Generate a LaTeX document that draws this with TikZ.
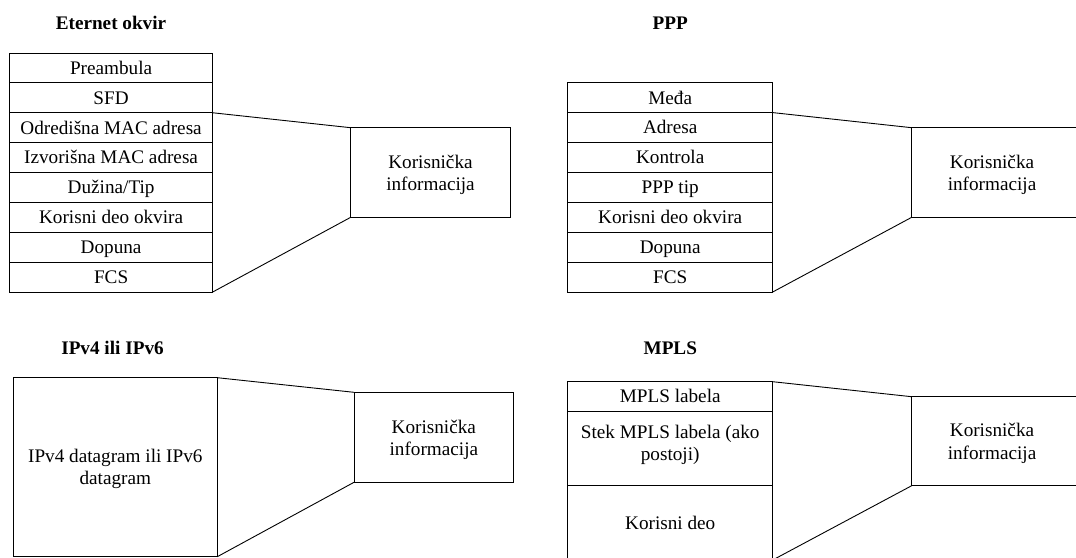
\documentclass[tikz,border=0pt]{standalone}
\usepackage{fontspec}
\setmainfont{Liberation Serif}
\begin{document}
\begin{tikzpicture}[x=1pt, y=-1pt, line width=0.9pt,
  every node/.style={font=\fontsize{19.2}{22.7}\selectfont, inner sep=0pt, outer sep=0pt},
  field/.style={draw, rectangle, minimum height=29.9pt, text height=12.7pt, text depth=0pt},
  block/.style={draw, rectangle},
  txt/.style={align=center},
  title/.style={font=\fontsize{19.2}{22.7}\selectfont\bfseries, anchor=base},
  link/.style={line width=0.9pt}]
  \useasboundingbox (0,0) rectangle (1076,557);
  \clip (0,0) rectangle (1076,557);

  % Ethernet frame
  \node[title] (te) at (111,29.3) {Eternet okvir};
  \foreach \t [count=\i] in {Preambula,SFD,Odredišna MAC adresa,Izvorišna MAC adresa,Dužina/Tip,Korisni deo okvira,Dopuna,FCS}
    \node[field, minimum width=203.2pt] (e\i) at (111.1,{53+29.875*(\i-0.5)}) {\t};
  \node[block, minimum width=159.6pt, minimum height=89.6pt] (ek) at (430.5,172.5) {};
  \node[txt] (ekt) at (430.5,175) {Korisnička\\informacija};
  \draw[link] (e2.south east) -- (ek.north west);
  \draw[link] (e8.south east) -- (ek.south west);

  % PPP frame
  \node[title] (tp) at (670.2,29.3) {PPP};
  \foreach \t [count=\i] in {Međa,Adresa,Kontrola,PPP tip,Korisni deo okvira,Dopuna,FCS}
    \node[field, minimum width=205pt] (p\i) at (670.2,{82.7+29.9*(\i-0.5)}) {\t};
  \node[block, minimum width=168.3pt, minimum height=89.6pt] (pk) at (995.85,172.5) {};
  \node[txt] (pkt) at (992,175) {Korisnička\\informacija};
  \draw[link] (p1.south east) -- (pk.north west);
  \draw[link] (p7.south east) -- (pk.south west);

  % IPv4 / IPv6 datagram
  \node[title] (ti) at (112.5,354) {IPv4 ili IPv6};
  \node[block, minimum width=204pt, minimum height=179pt] (ib) at (115.3,467.2) {};
  \node[txt] (ibt) at (115.3,469) {IPv4 datagram ili IPv6\\datagram};
  \node[block, minimum width=159.7pt, minimum height=90pt] (ik) at (433.85,437.3) {};
  \node[txt] (ikt) at (433.85,439.8) {Korisnička\\informacija};
  \draw[link] (ib.north east) -- (ik.north west);
  \draw[link] (ib.south east) -- (ik.south west);

  % MPLS
  \node[title] (tm) at (670.3,354) {MPLS};
  \node[field, minimum width=205pt, minimum height=29.3pt] (m1) at (670.2,396.35) {MPLS labela};
  \node[block, minimum width=205pt, minimum height=74.3pt] (m2) at (670.2,448.15) {};
  \node[txt] (m2t) at (670.2,445) {Stek MPLS labela (ako\\postoji)};
  \node[field, minimum width=205pt, minimum height=74.7pt] (m3) at (670.2,522.65) {Korisni deo};
  \node[block, minimum width=168.3pt, minimum height=89pt] (mk) at (995.85,441.2) {};
  \node[txt] (mkt) at (992,443.7) {Korisnička\\informacija};
  \draw[link] (m1.north east) -- (mk.north west);
  \draw[link] (m3.south east) -- (mk.south west);
\end{tikzpicture}
\end{document}
